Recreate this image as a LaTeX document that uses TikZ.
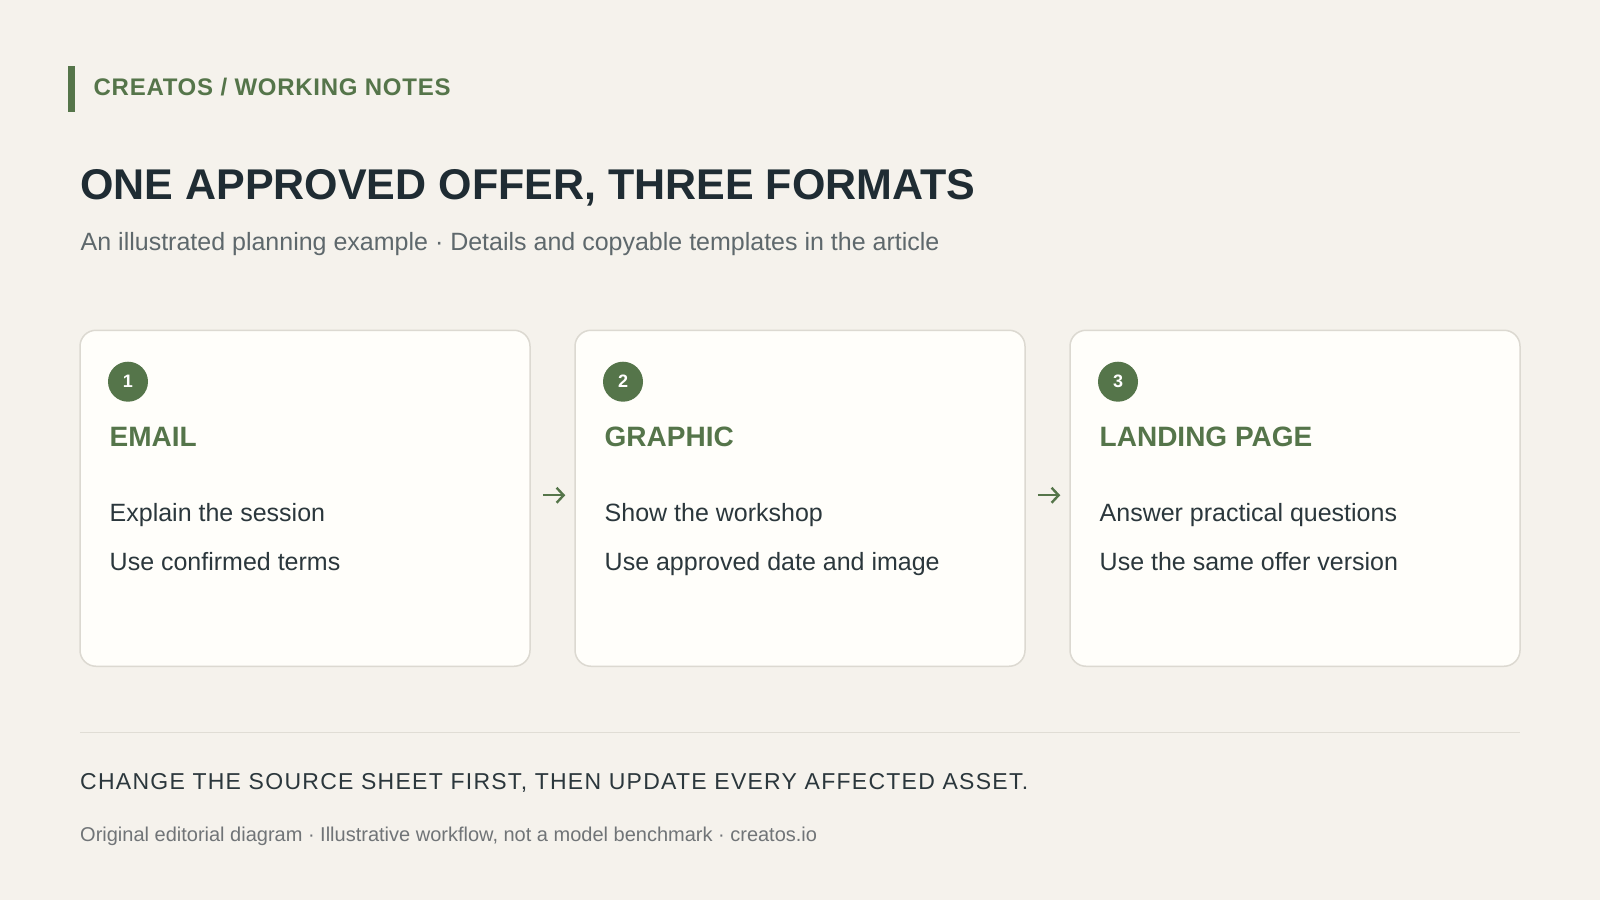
\documentclass[tikz,border=0pt]{standalone}
\usepackage{fontspec}
\setmainfont{Liberation Sans}
\newfontfamily\kickerfont[LetterSpace=3.0]{Liberation Sans}
\newfontfamily\claimfont[LetterSpace=5.5]{Liberation Sans}
\usetikzlibrary{arrows.meta}

\definecolor{paper}{HTML}{F5F2EC}
\definecolor{cardfill}{HTML}{FFFEFA}
\definecolor{cardline}{HTML}{DCD9D1}
\definecolor{leaf}{HTML}{55754A}
\definecolor{ink}{HTML}{1F2C33}
\definecolor{bodyink}{HTML}{2B373C}
\definecolor{muted}{HTML}{5E686C}
\definecolor{faint}{HTML}{707477}
\definecolor{rulegrey}{HTML}{E0DDD5}

\begin{document}
\begin{tikzpicture}[
  x=1pt, y=-1pt,
  card/.style={draw=cardline, line width=1.5pt, fill=cardfill, rounded corners=16pt,
    minimum width=450pt, minimum height=336pt, inner sep=0pt},
  badge/.style={circle, fill=leaf, minimum size=40pt, inner sep=0pt, text=white,
    font=\fontsize{18}{20}\selectfont\bfseries},
  cardtitle/.style={anchor=base west, inner sep=0pt, text=leaf,
    font=\fontsize{28}{32}\selectfont\bfseries},
  bodyline/.style={anchor=base west, inner sep=0pt, text=bodyink,
    font=\fontsize{25}{29}\selectfont},
  flow/.style={draw=leaf, line width=2.4pt, -{Straight Barb[length=7pt, width=15pt]},
    shorten <=12pt, shorten >=9pt}
]

% --- page ---
\useasboundingbox (0,0) rectangle (1600,900);
\fill[paper] (0,0) rectangle (1600,900);

% --- header ---
\fill[leaf] (68,66) rectangle (75,111.5);
\node[anchor=base west, inner sep=0pt, text=leaf,
  font=\kickerfont\fontsize{24}{28}\selectfont\bfseries] (kicker) at (93.5,95.7) {CREATOS / WORKING NOTES};
\node[anchor=base west, inner sep=0pt, text=ink,
  font=\fontsize{43}{50}\selectfont\bfseries] (title) at (80,199.3) {ONE APPROVED OFFER, THREE FORMATS};
\node[anchor=base west, inner sep=0pt, text=muted,
  font=\fontsize{25}{30}\selectfont] (subtitle) at (80.5,250.7) {An illustrated planning example · Details and copyable templates in the article};

% --- cards ---
\node[card] (email) at (305,498.25) {};
\node[card] (graphic) at (800,498.25) {};
\node[card] (landing) at (1295,498.25) {};

% --- card 1: email ---
\node[badge] (num1) at (128,381.7) {1};
\node[cardtitle] (head1) at (109.5,446) {EMAIL};
\node[bodyline] (line1a) at (109.5,521) {Explain the session};
\node[bodyline] (line1b) at (109.5,570) {Use confirmed terms};

% --- card 2: graphic ---
\node[badge] (num2) at (623,381.7) {2};
\node[cardtitle] (head2) at (604.5,446) {GRAPHIC};
\node[bodyline] (line2a) at (604.5,521) {Show the workshop};
\node[bodyline] (line2b) at (604.5,570) {Use approved date and image};

% --- card 3: landing page ---
\node[badge] (num3) at (1118,381.7) {3};
\node[cardtitle] (head3) at (1099.5,446) {LANDING PAGE};
\node[bodyline] (line3a) at (1099.5,521) {Answer practical questions};
\node[bodyline] (line3b) at (1099.5,570) {Use the same offer version};

% --- arrows between cards ---
\draw[flow] ([yshift=3pt]email.east) -- ([yshift=3pt]graphic.west);
\draw[flow] ([yshift=3pt]graphic.east) -- ([yshift=3pt]landing.west);

% --- footer ---
\draw[rulegrey, line width=1.5pt] (80,732.7) -- (1520,732.7);
\node[anchor=base west, inner sep=0pt, text=bodyink,
  font=\claimfont\fontsize{23}{28}\selectfont] (claim) at (80,789.3) {CHANGE THE SOURCE SHEET FIRST, THEN UPDATE EVERY AFFECTED ASSET.};
\node[anchor=base west, inner sep=0pt, text=faint,
  font=\fontsize{20}{24}\selectfont] (credit) at (80,841.5) {Original editorial diagram · Illustrative workflow, not a model benchmark · creatos.io};

\end{tikzpicture}
\end{document}
